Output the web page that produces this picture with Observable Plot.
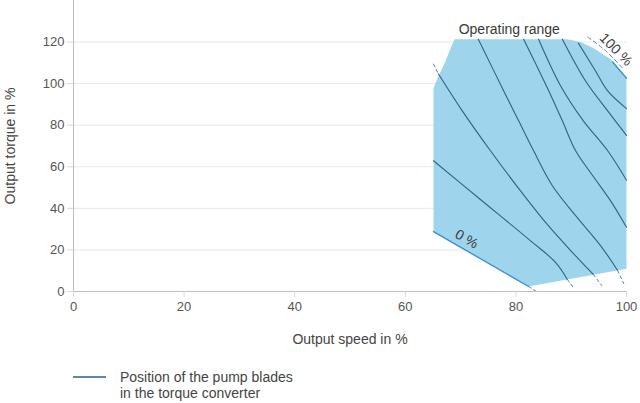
<!DOCTYPE html>
<html><head><meta charset="utf-8">
<script src="https://cdn.jsdelivr.net/npm/d3@7"></script>
<script src="https://cdn.jsdelivr.net/npm/@observablehq/plot@0.6"></script>
<style>
body{margin:0;background:#fff;font-family:"Liberation Sans",Arial,Helvetica,sans-serif;}
#legend{display:flex;align-items:flex-start;margin-top:11px;padding-left:73px;font-size:14px;line-height:16px;color:#444;}
#legend .sw{width:33px;height:2px;background:#5a87b3;margin-top:7px;margin-right:14px;}
</style></head><body>
<div id="chart"></div>
<div id="legend"><div class="sw"></div><div>Position of the pump blades<br>in the torque converter</div></div>
<script>
const xTicks = [0, 20, 40, 60, 80, 100];
const yTicks = [0, 20, 40, 60, 80, 100, 120];

// Operating range outline (speed %, torque %)
const operatingRange = [
  [65.1, 28.8], [65.1, 97.9], [66.0, 103.7], [67.3, 110.9], [68.2, 117.1], [68.9, 121.4],
  [89.3, 121.4], [91.7, 120.0], [94.0, 117.1], [97.1, 111.8], [100, 102.4],
  [100, 11.0], [82.3, 2.4]
];

// Pump blade position lines (solid inside range)
const blade0 = [[65.1, 28.8], [82.3, 2.4]];
const blade1 = [[65.1, 62.9], [73.2, 45.1], [82.6, 24.5], [87.2, 13.9], [89.3, 5.8]];
const blade2 = [[66.0, 104.6], [70.3, 86.9], [75.4, 67.7], [80.8, 48.5], [85.4, 33.1], [89.9, 19.7], [94.0, 8.2]];
const blade3 = [[73.2, 121.4], [77.8, 96.5], [80.5, 82.1], [83.2, 67.7], [86.6, 50.9], [90.8, 36.5], [95.3, 22.1], [98.4, 10.1]];
const blade4 = [[81.4, 121.4], [85.7, 97.9], [88.4, 82.1], [90.8, 67.7], [93.9, 55.7], [97.1, 43.7], [100, 30.9]];
const blade5 = [[84.1, 121.4], [88.1, 98.9], [92.2, 82.1], [96.6, 67.7], [100, 53.5]];
const blade6 = [[88.4, 121.4], [92.6, 101.3], [96.6, 86.9], [100, 75.1]];
const blade7 = [[91.3, 119.5], [94.4, 106.1], [96.6, 96.5], [100, 88.0]];
const blade100 = [[97.5, 110.4], [100, 102.6]];

// Dashed extensions outside the range
const dash0 = [[82.3, 2.4], [83.7, 0]];
const dash1 = [[89.3, 5.8], [90.4, 1.9]];
const dash2a = [[65.1, 109.4], [66.0, 104.6]];
const dash2b = [[94.0, 8.2], [95.5, 2.9]];
const dash3 = [[98.4, 10.1], [99.5, 3.8]];
const dash100 = [[93.0, 122.4], [96.2, 115.9], [99.3, 107.4]];

const labels = [
  {x: 78.8, y: 126.2, text: "Operating range", rotate: 0},
  {x: 98.1, y: 116.4, text: "100 %", rotate: 45},
  {x: 71.1, y: 25.2, text: "0 %", rotate: 30}
];

const lineColor = "#2f6383";
const edgeColor = "#3f8fcf";
const solidLines = [blade1, blade2, blade3, blade4, blade5, blade6, blade7];
const dashLines = [dash0, dash1, dash2a, dash2b, dash3];

const marks = [
  Plot.gridY(yTicks.slice(1), {stroke: "#e8e8e8", strokeOpacity: 1}),
  Plot.line(operatingRange, {x: d => d[0], y: d => d[1], fill: "#9ed5ed", stroke: "none", curve: "linear-closed"}),
  ...solidLines.map(l => Plot.line(l, {x: d => d[0], y: d => d[1], stroke: lineColor, strokeWidth: 1.1, curve: "catmull-rom"})),
  Plot.line(blade0, {x: d => d[0], y: d => d[1], stroke: edgeColor, strokeWidth: 1.4}),
  Plot.line(blade100, {x: d => d[0], y: d => d[1], stroke: edgeColor, strokeWidth: 1.4}),
  ...dashLines.map(l => Plot.line(l, {x: d => d[0], y: d => d[1], stroke: "#4a84b8", strokeWidth: 1, strokeDasharray: "3,3"})),
  Plot.line(dash100, {x: d => d[0], y: d => d[1], stroke: "#4a84b8", strokeWidth: 1, strokeDasharray: "4,3", curve: "catmull-rom"}),
  Plot.ruleX([0], {stroke: "#bdbdbd"}),
  Plot.ruleY([0], {stroke: "#bdbdbd"}),
  Plot.axisX({ticks: xTicks, tickSize: 6, tickPadding: 4, stroke: "#d8d8d8", fill: "#555", label: null, fontSize: 13}),
  Plot.axisY({ticks: yTicks, tickSize: 6, tickPadding: 3, stroke: "#d8d8d8", fill: "#555", label: null, fontSize: 13}),
  Plot.text(labels, {x: "x", y: "y", text: "text", rotate: "rotate", fill: "#3a3a3a", fontSize: 14}),
  Plot.text(["Output speed in %"], {frameAnchor: "bottom", dy: 52, fill: "#444", fontSize: 14}),
  Plot.text(["Output torque in %"], {frameAnchor: "left", dx: -63, rotate: -90, textAnchor: "middle", fill: "#444", fontSize: 14})
];

const chart = Plot.plot({
  width: 640,
  height: 358,
  marginTop: 0,
  marginLeft: 73,
  marginRight: 14,
  marginBottom: 67,
  style: {fontFamily: '"Liberation Sans", Arial, Helvetica, sans-serif', fontSize: "13px", background: "#fff", overflow: "visible"},
  x: {domain: [0, 100]},
  y: {domain: [0, 140]},
  marks
});
document.getElementById("chart").appendChild(chart);
</script>
</body></html>
